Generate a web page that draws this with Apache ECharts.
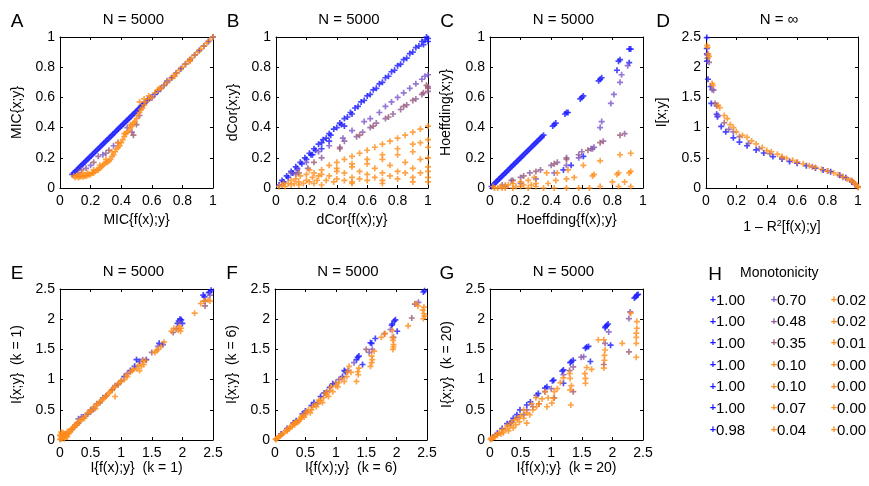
<!DOCTYPE html>
<html><head><meta charset="utf-8">
<script src="https://cdn.jsdelivr.net/npm/echarts@6/dist/echarts.min.js"></script>
<style>html,body{margin:0;padding:0;background:#fff}#c{width:869px;height:486px}</style>
</head><body><div id="c"></div>
<script>
// ---------------- DATA ----------------
const panelLetters = ['A','B','C','D','E','F','G'];
const panelTitles = ['N = 5000','N = 5000','N = 5000','N = \u221e','N = 5000','N = 5000','N = 5000'];
const xNames = ['MIC{f(x);y}','dCor{f(x);y}','Hoeffding{f(x);y}','1 \u2013 R{sup|2}[f(x);y]','I{f(x);y}  (k = 1)','I{f(x);y}  (k = 6)','I{f(x);y}  (k = 20)'];
const yNames = ['MIC{x;y}','dCor{x;y}','Hoeffding{x;y}','I[x;y]','I{x;y}  (k = 1)','I{x;y}  (k = 6)','I{x;y}  (k = 20)'];
const xMax = [1,1,1,1,2.5,2.5,2.5];
const yMax = [1,1,1,2.5,2.5,2.5,2.5];
const xStep = [0.2,0.2,0.2,0.2,0.5,0.5,0.5];
const yStep = [0.2,0.2,0.2,0.5,0.5,0.5,0.5];

const legendTitle = 'Monotonicity';
const monoValues = ['1.00','1.00','1.00','1.00','1.00','1.00','0.98','0.70','0.48','0.35','0.10','0.10','0.07','0.04','0.02','0.02','0.01','0.00','0.00','0.00','0.00'];
const monoGroups = ['blue','blue','blue','blue','blue','blue','blue','p70','p48','p35','orange','orange','orange','orange','orange','orange','orange','orange','orange','orange','orange'];

// Panel A (MIC)
const A_blue = [[0.08,0.09],[0.09,0.1],[0.1,0.11],[0.11,0.12],[0.12,0.13],[0.13,0.14],[0.14,0.15],[0.15,0.16],[0.16,0.17],[0.17,0.18],[0.18,0.19],[0.19,0.2],[0.2,0.21],[0.21,0.22],[0.22,0.23],[0.23,0.24],[0.24,0.25],[0.25,0.26],[0.26,0.27],[0.27,0.28],[0.28,0.29],[0.29,0.3],[0.3,0.31],[0.31,0.32],[0.32,0.33],[0.33,0.34],[0.34,0.35],[0.35,0.36],[0.36,0.37],[0.37,0.38],[0.38,0.39],[0.39,0.4],[0.4,0.41],[0.41,0.42],[0.42,0.43],[0.43,0.44],[0.44,0.45],[0.45,0.46],[0.46,0.47],[0.47,0.48],[0.48,0.49],[0.49,0.5],[0.5,0.51],[0.51,0.52],[0.52,0.53],[0.53,0.54],[0.54,0.55],[0.55,0.56],[0.56,0.57],[0.57,0.58],[0.58,0.59],[0.59,0.6],[0.6,0.6],[0.62,0.62],[0.64,0.64],[0.66,0.66],[0.68,0.68],[0.7,0.7],[0.73,0.73],[0.76,0.76],[0.79,0.79],[0.82,0.82],[0.85,0.85],[0.88,0.88],[0.91,0.91],[0.94,0.94],[0.97,0.97],[1,1]];
const A_p70 = [[0.12,0.1],[0.2,0.15],[0.28,0.22],[0.35,0.28],[0.44,0.4],[0.52,0.48],[0.7,0.71]];
const A_p48 = [[0.14,0.12],[0.17,0.13],[0.25,0.21],[0.3,0.23],[0.47,0.37],[0.6,0.6],[0.85,0.85]];
const A_p35 = [[0.22,0.17],[0.32,0.25],[0.38,0.3],[0.48,0.35],[0.5,0.42],[0.76,0.76]];
const A_orange = [[0.09,0.08],[0.1,0.07],[0.11,0.08],[0.12,0.07],[0.13,0.075],[0.14,0.08],[0.15,0.075],[0.16,0.08],[0.17,0.08],[0.18,0.085],[0.19,0.09],[0.2,0.09],[0.21,0.1],[0.22,0.1],[0.23,0.11],[0.24,0.12],[0.25,0.12],[0.26,0.13],[0.27,0.14],[0.28,0.15],[0.29,0.16],[0.3,0.17],[0.31,0.17],[0.32,0.18],[0.33,0.19],[0.34,0.21],[0.35,0.22],[0.36,0.24],[0.37,0.26],[0.38,0.27],[0.39,0.28],[0.4,0.3],[0.41,0.32],[0.42,0.34],[0.43,0.36],[0.44,0.37],[0.45,0.38],[0.46,0.4],[0.47,0.41],[0.48,0.43],[0.49,0.44],[0.5,0.46],[0.51,0.48],[0.52,0.5],[0.53,0.52],[0.54,0.53],[0.55,0.55],[0.56,0.57],[0.58,0.59],[0.6,0.6],[0.62,0.63],[0.64,0.65],[0.66,0.66],[0.68,0.68],[0.7,0.7],[0.72,0.72],[0.74,0.74],[0.76,0.76],[0.78,0.78],[0.8,0.8],[0.82,0.82],[0.84,0.84],[0.86,0.86],[0.88,0.88],[0.9,0.9],[0.92,0.92],[0.94,0.94],[0.96,0.96],[0.98,0.98],[1,1],[0.12,0.09],[0.15,0.1],[0.18,0.1],[0.22,0.12],[0.26,0.15],[0.3,0.19],[0.34,0.24],[0.38,0.3],[0.42,0.36],[0.46,0.42],[0.52,0.57],[0.55,0.59],[0.58,0.61],[0.65,0.66],[0.75,0.74],[0.85,0.84]];

// Panel B (dCor)
const B_blue = [[0.02,0.02],[0.04,0.05],[0.05,0.04],[0.07,0.08],[0.08,0.07],[0.1,0.11],[0.11,0.1],[0.13,0.14],[0.14,0.13],[0.16,0.17],[0.17,0.16],[0.19,0.2],[0.2,0.19],[0.22,0.23],[0.23,0.22],[0.25,0.26],[0.26,0.25],[0.28,0.29],[0.3,0.3],[0.31,0.32],[0.33,0.33],[0.35,0.36],[0.36,0.35],[0.38,0.39],[0.4,0.4],[0.42,0.43],[0.43,0.42],[0.45,0.46],[0.47,0.47],[0.49,0.5],[0.5,0.49],[0.52,0.53],[0.54,0.54],[0.56,0.57],[0.58,0.58],[0.6,0.61],[0.62,0.62],[0.64,0.65],[0.66,0.66],[0.68,0.69],[0.7,0.7],[0.72,0.73],[0.74,0.74],[0.76,0.77],[0.78,0.78],[0.8,0.81],[0.82,0.82],[0.84,0.85],[0.86,0.86],[0.88,0.89],[0.9,0.9],[0.92,0.93],[0.94,0.94],[0.96,0.97],[0.98,0.98],[0.99,1.0],[1.0,0.97],[1.0,0.99],[0.97,0.95],[0.45,0.41],[0.24,0.22],[0.35,0.31],[0.3,0.26]];
const B_p70 = [[0.1,0.1],[0.14,0.12],[0.2,0.17],[0.28,0.24],[0.35,0.28],[0.44,0.33],[0.5,0.38],[0.58,0.44],[0.62,0.46],[0.68,0.5],[0.72,0.54],[0.76,0.57],[0.8,0.6],[0.84,0.63],[0.88,0.66],[0.92,0.69],[0.96,0.72],[1,0.75],[0.98,0.74]];
const B_p48 = [[0.13,0.09],[0.21,0.13],[0.3,0.2],[0.42,0.27],[0.45,0.31],[0.53,0.34],[0.57,0.37],[0.62,0.4],[0.66,0.43],[0.72,0.46],[0.77,0.49],[0.82,0.52],[0.86,0.55],[0.92,0.59],[0.96,0.62],[1,0.64],[1,0.67]];
const B_p35 = [[0.15,0.1],[0.25,0.17],[0.42,0.26],[0.55,0.35],[0.64,0.41],[0.74,0.47],[0.84,0.54],[0.9,0.58],[0.97,0.63],[1,0.66],[0.99,0.68]];
const B_orange = [[0.25,0.1],[0.3,0.12],[0.35,0.15],[0.4,0.17],[0.45,0.19],[0.5,0.21],[0.55,0.23],[0.6,0.25],[0.65,0.27],[0.7,0.29],[0.75,0.31],[0.8,0.33],[0.85,0.35],[0.9,0.37],[0.95,0.39],[1,0.41],
[0.4,0.13],[0.5,0.16],[0.6,0.19],[0.7,0.22],[0.8,0.26],[0.9,0.29],[0.95,0.3],[1,0.32],
[0.3,0.09],[0.4,0.11],[0.5,0.14],[0.6,0.16],[0.7,0.19],[0.8,0.22],[0.9,0.24],[1,0.27],
[0.35,0.08],[0.45,0.1],[0.55,0.11],[0.65,0.13],[0.75,0.15],[0.85,0.17],[0.95,0.19],[1,0.2],
[0.4,0.06],[0.5,0.07],[0.6,0.09],[0.7,0.1],[0.8,0.11],[0.9,0.13],[1,0.14],
[0.45,0.05],[0.55,0.06],[0.65,0.07],[0.75,0.08],[0.85,0.1],[0.95,0.1],[1,0.11],
[0.5,0.04],[0.6,0.05],[0.7,0.05],[0.8,0.06],[0.9,0.07],[1,0.07],
[0.3,0.02],[0.5,0.03],[0.7,0.03],[0.9,0.04],[1,0.04],
[0.02,0.01],[0.04,0.02],[0.05,0.03],[0.06,0.01],[0.08,0.03],[0.1,0.02],[0.1,0.05],[0.12,0.03],[0.13,0.06],[0.15,0.04],[0.16,0.08],[0.18,0.03],[0.2,0.05],[0.2,0.09],[0.22,0.04],[0.24,0.07],[0.22,0.12],[0.27,0.05],[0.28,0.08],[0.33,0.05],[0.38,0.04],[0.15,0.02],[0.25,0.03]];

// Panel C (Hoeffding)
const C_blue = [[0.01,0.01],[0.02,0.02],[0.03,0.03],[0.04,0.04],[0.05,0.05],[0.06,0.06],[0.07,0.07],[0.08,0.08],[0.09,0.09],[0.1,0.1],[0.11,0.11],[0.12,0.12],[0.13,0.13],[0.14,0.14],[0.15,0.15],[0.16,0.16],[0.17,0.17],[0.18,0.18],[0.19,0.19],[0.2,0.2],[0.21,0.21],[0.22,0.22],[0.23,0.23],[0.24,0.24],[0.25,0.25],[0.26,0.26],[0.27,0.27],[0.28,0.28],[0.29,0.29],[0.3,0.3],[0.31,0.31],[0.32,0.32],[0.33,0.33],[0.34,0.34],[0.35,0.35],[0.41,0.41],[0.42,0.42],[0.43,0.43],[0.49,0.49],[0.5,0.5],[0.51,0.5],[0.59,0.59],[0.6,0.6],[0.61,0.61],[0.71,0.71],[0.72,0.72],[0.73,0.73],[0.84,0.84],[0.85,0.85],[0.91,0.92],[0.92,0.92],[0.83,0.78],[0.91,0.83],[0.61,0.21],[0.53,0.15],[0.48,0.12]];
const C_p70 = [[0.9,0.81],[0.86,0.75],[0.85,0.7],[0.81,0.62],[0.79,0.56],[0.73,0.44],[0.72,0.4],[0.68,0.27],[0.66,0.26],[0.58,0.2],[0.5,0.15],[0.42,0.1],[0.3,0.06],[0.2,0.03],[0.1,0.01]];
const C_p48 = [[0.88,0.36],[0.74,0.31],[0.67,0.26],[0.6,0.24],[0.58,0.22],[0.5,0.2],[0.44,0.17],[0.4,0.15],[0.33,0.12],[0.26,0.1],[0.2,0.07],[0.14,0.05],[0.08,0.02]];
const C_p35 = [[0.85,0.35],[0.72,0.3],[0.64,0.25],[0.5,0.19],[0.42,0.16],[0.3,0.11],[0.22,0.08],[0.15,0.05]];
const C_orange = [[0.92,0.23],[0.85,0.22],[0.72,0.18],[0.61,0.15],[0.51,0.12],[0.44,0.1],[0.37,0.1],[0.29,0.07],[0.25,0.05],[0.2,0.04],[0.15,0.03],[0.1,0.02],[0.92,0.11],[0.91,0.1],[0.84,0.1],[0.83,0.09],[0.68,0.09],[0.67,0.08],[0.55,0.07],[0.5,0.06],[0.43,0.05],[0.38,0.03],[0.3,0.03],[0.88,0.04],[0.8,0.04],[0.92,0.01],[0.84,0.01],[0.72,0.01],[0.65,0.0],[0.58,0.0],[0.5,0.0],[0.42,0.0],[0.35,0.0],[0.3,0.01],[0.25,0.0],[0.2,0.01],[0.15,0.0],[0.1,0.0],[0.05,0.0],[0.02,0.01],[0.07,0.01],[0.12,0.02],[0.17,0.01],[0.22,0.02],[0.27,0.02],[0.03,0.0],[0.08,0.0]];

// Panel D (N = infinity)
const D_blue = [[0.005,2.49],[0.005,2.31],[0.006,2.22],[0.007,2.1],[0.013,1.8],[0.03,1.68],[0.035,1.4],[0.07,1.22],[0.075,1.18],[0.1,1.02],[0.13,0.93],[0.18,0.83],[0.22,0.76],[0.27,0.7],[0.33,0.63],[0.38,0.58],[0.44,0.52],[0.5,0.48],[0.55,0.44],[0.6,0.41],[0.66,0.37],[0.72,0.33],[0.77,0.3],[0.82,0.27],[0.88,0.21],[0.92,0.17],[0.96,0.1],[0.98,0.06],[1,0.02]];
const D_p70 = [[0.01,2.2],[0.04,1.63],[0.08,1.2],[0.18,0.93],[0.35,0.65],[0.6,0.42],[0.9,0.18]];
const D_p48 = [[0.02,2.08],[0.05,1.62],[0.07,1.36],[0.15,0.97],[0.28,0.74],[0.5,0.5],[0.8,0.28]];
const D_p35 = [[0.01,2.15],[0.06,1.4],[0.12,1.08],[0.22,0.85],[0.42,0.57],[0.7,0.35],[0.96,0.12]];
const D_orange = [[0.008,2.36],[0.01,2.33],[0.015,2.22],[0.02,2.18],[0.04,1.73],[0.045,1.7],[0.08,1.37],[0.09,1.33],[0.12,1.2],[0.14,1.15],[0.16,1.05],[0.18,1.0],[0.2,0.93],[0.24,0.87],[0.27,0.84],[0.3,0.78],[0.33,0.73],[0.37,0.67],[0.4,0.62],[0.43,0.6],[0.47,0.56],[0.5,0.52],[0.53,0.49],[0.57,0.46],[0.6,0.43],[0.64,0.4],[0.68,0.37],[0.72,0.34],[0.76,0.31],[0.8,0.28],[0.84,0.25],[0.87,0.22],[0.9,0.19],[0.93,0.15],[0.95,0.13],[0.97,0.1],[0.98,0.07],[0.99,0.05],[1,0.02],[1,0.01]];

// Panel E (k = 1)
const E_blue = [[2.47,2.48],[2.45,2.45],[2.43,2.44],[2.36,2.37],[2.34,2.4],[1.98,1.99],[1.96,2.0],[1.92,1.93],[2.0,1.93],[1.94,1.97],[1.68,1.58],[1.62,1.6],[1.41,1.33],[1.25,1.33],[1.3,1.3],[1.22,1.22],[1.15,1.15],[1.05,1.05],[0.95,0.92],[0.85,0.83],[0.75,0.73],[0.65,0.62],[0.55,0.52],[0.5,0.47],[0.45,0.43],[0.38,0.38],[0.3,0.28],[0.2,0.18],[0.1,0.1],[0.05,0.05]];
const E_p70 = [[2.45,2.4],[1.95,1.95],[1.6,1.55],[1.1,1.1],[0.7,0.7],[0.35,0.38]];
const E_p48 = [[2.37,2.3],[1.9,1.84],[1.35,1.33],[0.9,0.9],[0.5,0.5],[0.3,0.35]];
const E_p35 = [[2.37,2.22],[1.85,1.78],[1.5,1.45],[1.0,0.98],[0.6,0.6],[0.25,0.25]];
const E_orange = [[2.42,2.32],[2.45,2.3],[2.35,2.3],[2.3,2.26],[2.2,2.1],[1.98,1.85],[1.95,1.88],[1.93,1.82],[1.97,1.8],[1.86,1.85],[1.82,1.8],[1.7,1.62],[1.65,1.55],[1.6,1.5],[1.58,1.48],[1.55,1.45],[1.4,1.32],[1.37,1.25],[1.35,1.3],[1.33,1.22],[1.3,1.15],[1.25,1.18],[1.2,1.17],[1.15,1.12],[1.1,1.05],[1.05,1.0],[1.0,0.97],[0.95,0.92],[0.9,0.72],[0.9,0.88],[0.85,0.82],[0.8,0.78],[0.75,0.72],[0.7,0.68],[0.65,0.63],[0.6,0.58],[0.58,0.52],[0.55,0.55],[0.5,0.47],[0.45,0.45],[0.42,0.4],[0.4,0.36],[0.35,0.34],[0.3,0.3],[0.28,0.25],[0.25,0.24],[0.22,0.2],[0.2,0.17],[0.18,0.18],[0.15,0.12],[0.12,0.14],[0.1,0.08],[0.08,0.1],[0.06,0.05],[0.05,0.12],[0.04,0.03],[0.03,0.1],[0.02,0.02],[0.01,0.06],[0.0,0.01],[0.02,0.13],[0.07,0.02],[0.12,0.05],[0.0,0.08],[0.97,0.95],[0.87,0.86],[0.77,0.74],[0.68,0.65],[0.62,0.6],[0.52,0.5],[0.48,0.46],[0.38,0.36],[0.33,0.31],[0.27,0.27],[0.23,0.22],[0.16,0.15],[0.14,0.1],[0.09,0.06],[1.08,1.07],[1.18,1.15],[1.28,1.24],[0.82,0.8],[0.72,0.7]];

// Panel F (k = 6)
const F_blue = [[2.46,2.47],[2.44,2.45],[1.98,1.99],[1.96,1.97],[1.93,1.92],[1.92,1.9],[2.01,1.8],[1.57,1.61],[1.59,1.6],[1.65,1.68],[1.38,1.39],[1.36,1.37],[1.34,1.33],[1.44,1.25],[1.16,1.13],[1.14,1.15],[1.11,1.05],[0.95,0.93],[0.9,0.87],[0.81,0.78],[0.75,0.72],[0.64,0.62],[0.6,0.57],[0.5,0.48],[0.45,0.43],[0.35,0.32],[0.3,0.28],[0.2,0.19],[0.1,0.1]];
const F_p70 = [[2.36,2.28],[1.9,1.83],[1.6,1.5],[1.3,1.28],[1.05,1.0],[0.7,0.6]];
const F_p48 = [[2.3,2.25],[1.95,1.7],[1.55,1.45],[1.2,1.15],[0.85,0.8],[0.5,0.45]];
const F_p35 = [[2.25,2.02],[1.8,1.76],[1.5,1.5],[1.0,0.95],[0.35,0.3]];
const F_orange = [[2.45,2.2],[2.45,2.09],[2.44,2.01],[2.46,2.05],[2.43,2.15],[2.32,2.26],[2.35,2.22],[2.19,1.89],[1.93,1.81],[1.93,1.7],[1.95,1.58],[1.94,1.5],[1.94,1.65],[1.95,1.54],[1.81,1.76],[1.75,1.7],[1.63,1.47],[1.59,1.39],[1.59,1.28],[1.57,1.22],[1.6,1.33],[1.38,1.19],[1.37,1.08],[1.34,0.97],[1.36,1.13],[1.22,1.22],[1.19,1.13],[1.14,0.97],[1.18,1.05],[1.03,0.88],[1.05,0.95],[1.0,0.9],[0.95,0.8],[0.9,0.82],[0.88,0.72],[0.85,0.75],[0.8,0.7],[0.78,0.62],[0.75,0.65],[0.7,0.6],[0.68,0.55],[0.65,0.58],[0.6,0.5],[0.58,0.45],[0.55,0.5],[0.5,0.42],[0.48,0.38],[0.45,0.4],[0.42,0.35],[0.4,0.32],[0.38,0.3],[0.35,0.3],[0.32,0.25],[0.3,0.27],[0.28,0.22],[0.25,0.22],[0.22,0.18],[0.2,0.15],[0.18,0.16],[0.15,0.12],[0.12,0.1],[0.1,0.08],[0.08,0.07],[0.06,0.05],[0.04,0.03],[0.02,0.02],[0.01,0.01],[0.92,0.88],[0.83,0.78],[0.72,0.66],[0.62,0.55],[0.52,0.47],[0.43,0.38],[0.33,0.28],[0.24,0.2],[1.1,1.02],[1.25,1.12]];

// Panel G (k = 20)
const G_blue = [[2.4,2.4],[2.38,2.37],[2.42,2.41],[2.36,2.35],[1.91,1.9],[1.89,1.88],[1.88,1.86],[1.93,1.92],[1.97,1.57],[1.61,1.55],[1.58,1.54],[1.56,1.52],[1.64,1.3],[1.36,1.32],[1.33,1.3],[1.31,1.28],[1.2,1.16],[1.18,1.14],[1.04,0.99],[1.02,0.98],[1.2,0.94],[0.93,0.88],[0.9,0.86],[0.79,0.77],[0.76,0.74],[0.66,0.63],[0.6,0.58],[0.49,0.5],[0.44,0.42],[0.38,0.36],[0.33,0.28],[0.28,0.27],[0.2,0.19],[0.12,0.11],[0.05,0.05]];
const G_p70 = [[2.29,2.12],[1.94,1.79],[1.53,1.38],[1.2,1.08],[0.9,0.8],[0.6,0.5],[0.35,0.3]];
const G_p48 = [[2.27,2.01],[1.88,1.6],[1.49,1.37],[1.36,1.21],[1.0,0.85],[0.7,0.55],[0.45,0.38]];
const G_p35 = [[2.27,1.46],[1.86,1.25],[1.36,0.8],[1.3,1.15],[1.05,0.7],[0.8,0.6],[0.55,0.42]];
const G_orange = [[2.4,1.96],[2.4,1.85],[2.39,1.77],[2.39,1.7],[2.39,1.6],[2.39,1.37],[2.16,1.6],[2.3,2.1],[1.86,1.66],[1.77,1.66],[1.88,1.49],[1.87,1.32],[1.86,1.19],[1.87,1.4],[1.66,1.17],[1.56,1.02],[1.56,0.94],[1.55,1.1],[1.58,1.2],[1.31,1.02],[1.31,0.83],[1.32,0.58],[1.33,0.9],[1.3,1.1],[1.2,1.03],[1.15,0.95],[1.1,0.85],[1.04,0.69],[1.01,0.61],[1.05,0.8],[0.93,0.55],[0.95,0.7],[0.9,0.8],[0.85,0.68],[0.8,0.6],[0.76,0.55],[0.75,0.7],[0.7,0.5],[0.68,0.6],[0.65,0.42],[0.6,0.28],[0.6,0.45],[0.55,0.5],[0.55,0.36],[0.5,0.4],[0.48,0.3],[0.45,0.35],[0.42,0.25],[0.4,0.33],[0.38,0.2],[0.35,0.28],[0.32,0.22],[0.3,0.15],[0.28,0.24],[0.25,0.18],[0.22,0.12],[0.2,0.17],[0.18,0.1],[0.15,0.12],[0.12,0.08],[0.1,0.09],[0.08,0.05],[0.05,0.04],[0.03,0.02],[0.01,0.01],[0.02,0.03]];

// ---------------- STYLE / LAYOUT ----------------
const COLORS = {blue:'#1a1aff', p70:'#7a55cc', p48:'#8c5a9c', p35:'#9c5a6e', orange:'#ff8c1a'};
const GROUP_ORDER = ['blue','p70','p48','p35','orange'];
const panelData = [
  [A_blue,A_p70,A_p48,A_p35,A_orange],
  [B_blue,B_p70,B_p48,B_p35,B_orange],
  [C_blue,C_p70,C_p48,C_p35,C_orange],
  [D_blue,D_p70,D_p48,D_p35,D_orange],
  [E_blue,E_p70,E_p48,E_p35,E_orange],
  [F_blue,F_p70,F_p48,F_p35,F_orange],
  [G_blue,G_p70,G_p48,G_p35,G_orange]
];
const FONT = 'Liberation Sans, Arial, Helvetica, sans-serif';
const grids = [
  {left:60, top:37, width:153, height:151},
  {left:276, top:37, width:152, height:151},
  {left:490, top:37, width:153, height:151},
  {left:706, top:37, width:152, height:151},
  {left:60, top:289, width:153, height:151},
  {left:275, top:289, width:152, height:151},
  {left:490, top:289, width:153, height:151}
];
const xNameGap = [25,25,25,31,19,19,19];
const yNameGap = [36,36,37,37,36,36,36];
const PLUS = 'path://M0,1.8H5V3.2H0Z M1.8,0H3.2V5H1.8Z';

const xAxes = [], yAxes = [], series = [], graphic = [];
const lineStyle = {color:'#000', width:1};
grids.forEach((g, i) => {
  const common = {gridIndex:i, type:'value', splitLine:{show:false},
    axisLine:{show:true, onZero:false, lineStyle},
    axisTick:{show:true, inside:true, length:3, lineStyle}};
  xAxes.push(Object.assign({}, common, {position:'bottom', min:0, max:xMax[i], interval:xStep[i],
    axisLabel:{color:'#000', fontSize:14, fontFamily:FONT, margin:6},
    name:xNames[i], nameLocation:'middle', nameGap:xNameGap[i],
    nameTextStyle:{color:'#000', fontSize:14, fontFamily:FONT, verticalAlign:'top',
      rich:{sup:{fontSize:9, fontFamily:FONT, color:'#000', verticalAlign:'top', padding:[0,0,8,0]}}}}));
  xAxes.push(Object.assign({}, common, {position:'top', min:0, max:xMax[i], interval:xStep[i], axisLabel:{show:false}}));
  yAxes.push(Object.assign({}, common, {position:'left', min:0, max:yMax[i], interval:yStep[i],
    axisLabel:{color:'#000', fontSize:14, fontFamily:FONT, margin:5},
    name:yNames[i], nameLocation:'middle', nameGap:yNameGap[i],
    nameTextStyle:{color:'#000', fontSize:14, fontFamily:FONT}}));
  yAxes.push(Object.assign({}, common, {position:'right', min:0, max:yMax[i], interval:yStep[i], axisLabel:{show:false}}));
  panelData[i].forEach((d, k) => {
    series.push({type:'scatter', xAxisIndex:2*i, yAxisIndex:2*i, data:d, symbol:PLUS, symbolSize:6,
      itemStyle:{color:COLORS[GROUP_ORDER[k]]}, clip:false, silent:true});
  });
  const cx = g.left + g.width/2;
  graphic.push({type:'text', x:g.left - 43, y:g.top - 15, style:{text:panelLetters[i], font:'19px ' + FONT, fill:'#000', align:'center', verticalAlign:'middle'}});
  graphic.push({type:'text', x:cx - 3, y:g.top - 17, style:{text:panelTitles[i], font:'15px ' + FONT, fill:'#000', align:'center', verticalAlign:'middle'}});
});

// Legend panel H
const legX = [713, 774, 834];
const legRowTop = 300, legRowStep = 21.67;
graphic.push({type:'text', x:715, y:275, style:{text:'H', font:'19px ' + FONT, fill:'#000', align:'center', verticalAlign:'middle'}});
graphic.push({type:'text', x:740, y:273, style:{text:legendTitle, font:'14px ' + FONT, fill:'#000', align:'left', verticalAlign:'middle'}});
monoValues.forEach((v, k) => {
  const col = Math.floor(k/7), row = k % 7;
  const y = legRowTop + row*legRowStep;
  graphic.push({type:'text', x:legX[col], y:y, style:{text:'+', font:'bold 11px ' + FONT, fill:COLORS[monoGroups[k]], align:'center', verticalAlign:'middle'}});
  graphic.push({type:'text', x:legX[col]+3, y:y+0.5, style:{text:v, font:'15px ' + FONT, fill:'#000', align:'left', verticalAlign:'middle'}});
});

const chart = echarts.init(document.getElementById('c'), null, {renderer:'canvas'});
chart.setOption({
  animation:false,
  backgroundColor:'#fff',
  grid: grids,
  xAxis: xAxes,
  yAxis: yAxes,
  series: series,
  graphic: graphic
});
</script></body></html>
